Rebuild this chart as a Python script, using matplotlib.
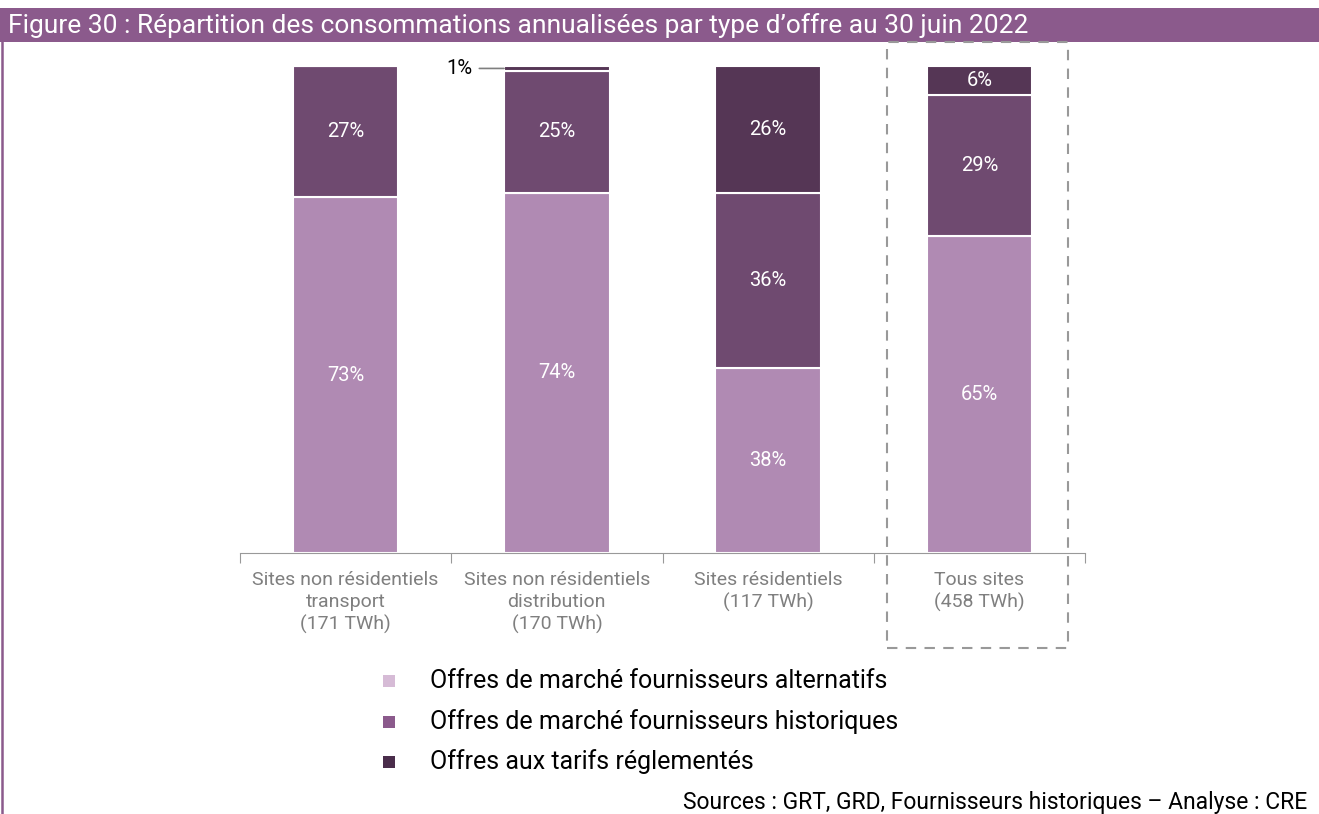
import matplotlib
matplotlib.use("Agg")
import matplotlib.pyplot as plt
from matplotlib.patches import Rectangle
from matplotlib.lines import Line2D

plt.rcParams['font.family'] = ['Roboto', 'DejaVu Sans']

categories = ["Sites non résidentiels\ntransport\n(171 TWh)",
              "Sites non résidentiels\ndistribution\n(170 TWh)",
              "Sites résidentiels\n(117 TWh)",
              "Tous sites\n(458 TWh)"]
series_names = ["Offres de marché fournisseurs alternatifs",
                "Offres de marché fournisseurs historiques",
                "Offres aux tarifs réglementés"]
alternatifs = [73, 74, 38, 65]
historiques = [27, 25, 36, 29]
reglementes = [0, 1, 26, 6]

title = "Figure 30 : Répartition des consommations annualisées par type d’offre au 30 juin 2022"
source = "Sources : GRT, GRD, Fournisseurs historiques – Analyse : CRE"

bar_colors = ["#B08AB3", "#6F4A70", "#553655"]
legend_colors = ["#D6BBD6", "#8B5A8C", "#4A2D4B"]
purple = "#8B5A8C"

W, H = 1319, 814
fig = plt.figure(figsize=(W/100, H/100), dpi=100)

def fx(px):
    return px / W
def fy(py):
    return 1 - py / H

# title bar
fig.patches.append(Rectangle((0, fy(42)), 1, (42-8)/H, transform=fig.transFigure,
                             facecolor=purple, edgecolor='none', zorder=0))
fig.text(fx(8), fy(26), title, color='white', fontsize=19, va='center', ha='left')
# left border
fig.add_artist(Line2D([fx(2), fx(2)], [0, fy(42)], transform=fig.transFigure,
                      color=purple, lw=1.8))

ax = fig.add_axes([fx(240), fy(553), (1085-240)/W, (553-66)/H])
x = list(range(len(categories)))
series = [alternatifs, historiques, reglementes]
bottoms = [0]*len(categories)
for vals, col in zip(series, bar_colors):
    ax.bar(x, vals, width=0.5, bottom=bottoms, color=col, edgecolor='white', linewidth=1.5, zorder=2)
    for i, v in enumerate(vals):
        if v >= 5:
            ax.text(i, bottoms[i] + v/2, f"{v}%", color='white', ha='center', va='center', fontsize=14.5)
    bottoms = [b + v for b, v in zip(bottoms, vals)]

# 1% annotation
i = 1
v = reglementes[i]
ytop = alternatifs[i] + historiques[i] + v/2
ax.annotate(f"{v}%", xy=(i - 0.25, ytop), xytext=(i - 0.40, ytop),
            ha='right', va='center', fontsize=14.5, color='black',
            arrowprops=dict(arrowstyle='-', color='#7f7f7f', lw=1.2, shrinkA=3, shrinkB=0))

ax.set_xlim(-0.5, 3.5)
ax.set_ylim(0, 100)
ax.set_yticks([])
for s in ['top', 'right', 'left']:
    ax.spines[s].set_visible(False)
ax.spines['bottom'].set_color('#999999')
ax.set_xticks([-0.5, 0.5, 1.5, 2.5, 3.5])
ax.set_xticklabels([])
ax.tick_params(axis='x', length=7, color='#999999', direction='out')
for i, c in enumerate(categories):
    ax.text(i, -3.6, c, ha='center', va='top', color='#7f7f7f', fontsize=14,
            linespacing=1.3, transform=ax.transData)

# dashed box
fig.add_artist(Rectangle((fx(887), fy(648)), (1068-887)/W, (648-42)/H, transform=fig.transFigure,
                         fill=False, edgecolor='#999999', lw=1.5, linestyle=(0, (5, 4))))

# legend
for k, (name, col) in enumerate(zip(series_names, legend_colors)):
    yy = 681 + k*40.5
    fig.patches.append(Rectangle((fx(383), fy(yy+6)), 12/W, 12/H, transform=fig.transFigure,
                                 facecolor=col, edgecolor='none'))
    fig.text(fx(430), fy(yy), name, fontsize=18, va='center', ha='left', color='black')

fig.text(fx(1307), fy(802), source, fontsize=16.5, ha='right', va='center', color='black')

fig.savefig("out.png", dpi=100)
